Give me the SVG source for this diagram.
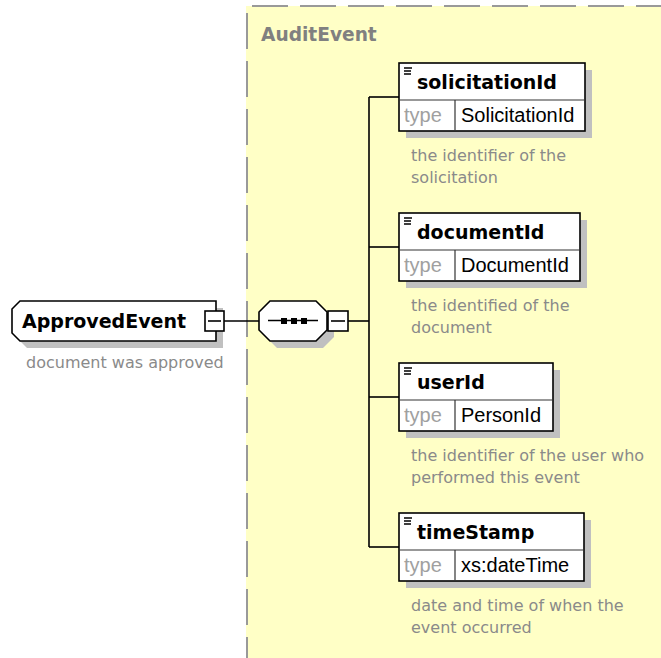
<svg xmlns="http://www.w3.org/2000/svg" width="661" height="658" viewBox="0 0 661 658">
<style>
.bg{fill:#FFFFC6}
.dash{stroke:#999;stroke-width:2;stroke-dasharray:36 12;fill:none}
.box{fill:#fff;stroke:#000;stroke-width:1.6}
.shadow{fill:#c0c0c0}
.inner{stroke:#333;stroke-width:1.2}
.conn{stroke:#000;stroke-width:1.6;fill:none}
.title{font-family:"DejaVu Sans",Verdana,sans-serif;font-weight:bold;font-size:19px;fill:#000}
.grouptitle{font-family:"DejaVu Sans",Verdana,sans-serif;font-weight:bold;font-size:18.6px;fill:#808080}
.type{font-family:"Liberation Sans",Arial,sans-serif;font-size:20px;fill:#a0a0a0}
.val{font-family:"Liberation Sans",Arial,sans-serif;font-size:20px;fill:#000}
.desc{font-family:"DejaVu Sans",Verdana,sans-serif;font-size:16px;fill:#8a8a8a}
.icon{stroke:#000;stroke-width:1.4}
</style>
<rect x="0" y="0" width="661" height="658" fill="#fff"/>
<g id="AuditEvent">
<rect class="bg" x="246" y="6" width="415" height="652"/>
<line class="dash" x1="252" y1="6" x2="661" y2="6"/>
<line class="dash" x1="247" y1="13" x2="247" y2="658"/>
<text class="grouptitle" x="261" y="41">AuditEvent</text>
</g>
<g id="connectors">
<line class="conn" x1="224" y1="321" x2="259" y2="321"/>
<line class="conn" x1="348" y1="321" x2="369" y2="321"/>
<line class="conn" x1="369" y1="97" x2="369" y2="547"/>
<line class="conn" x1="369" y1="97" x2="399" y2="97"/>
<line class="conn" x1="369" y1="247" x2="399" y2="247"/>
<line class="conn" x1="369" y1="397" x2="399" y2="397"/>
<line class="conn" x1="369" y1="547" x2="399" y2="547"/>
</g>
<g id="ApprovedEvent">
<path class="shadow" d="M27,308 H223 V348 H27 L19,340 V316 Z"/>
<path class="box" d="M20,301 H216 V341 H20 L12,333 V309 Z"/>
<text class="title" x="22" y="328">ApprovedEvent</text>
<rect class="box" x="205" y="311" width="19" height="20"/>
<line class="conn" x1="208" y1="321" x2="221" y2="321"/>
<text class="desc" x="26" y="368">document was approved</text>
</g>
<g id="sequence">
<path class="shadow" d="M277,308 H323 L334,319 V337 L323,348 H277 L266,337 V319 Z"/>
<path class="box" d="M270,301 H316 L327,312 V330 L316,341 H270 L259,330 V312 Z"/>
<line class="conn" x1="268" y1="320.5" x2="318" y2="320.5"/>
<rect x="281" y="318" width="6" height="6" fill="#000"/>
<rect x="291" y="318" width="6" height="6" fill="#000"/>
<rect x="301" y="318" width="6" height="6" fill="#000"/>
<rect class="box" x="328" y="311" width="20" height="20"/>
<line class="conn" x1="331" y1="321" x2="345" y2="321"/>
</g>
<g id="solicitationId" transform="translate(399,63)">
<rect class="shadow" x="7" y="7" width="186" height="68"/>
<rect class="box" x="0" y="0" width="186" height="68"/>
<line class="inner" x1="0" y1="37" x2="186" y2="37"/>
<line class="inner" x1="56" y1="37" x2="56" y2="68"/>
<path class="icon" d="M5,5 H13 M5,8 H12 M5,11 H12"/>
<text class="title" x="18" y="26">solicitationId</text>
<text class="type" x="5" y="59">type</text>
<text class="val" x="62" y="59">SolicitationId</text>
<text class="desc" x="12" y="98">the identifier of the</text>
<text class="desc" x="12" y="120">solicitation</text>
</g>
<g id="documentId" transform="translate(399,213)">
<rect class="shadow" x="7" y="7" width="181" height="68"/>
<rect class="box" x="0" y="0" width="181" height="68"/>
<line class="inner" x1="0" y1="37" x2="181" y2="37"/>
<line class="inner" x1="56" y1="37" x2="56" y2="68"/>
<path class="icon" d="M5,5 H13 M5,8 H12 M5,11 H12"/>
<text class="title" x="18" y="26">documentId</text>
<text class="type" x="5" y="59">type</text>
<text class="val" x="62" y="59">DocumentId</text>
<text class="desc" x="12" y="98">the identified of the</text>
<text class="desc" x="12" y="120">document</text>
</g>
<g id="userId" transform="translate(399,363)">
<rect class="shadow" x="7" y="7" width="154" height="68"/>
<rect class="box" x="0" y="0" width="154" height="68"/>
<line class="inner" x1="0" y1="37" x2="154" y2="37"/>
<line class="inner" x1="56" y1="37" x2="56" y2="68"/>
<path class="icon" d="M5,5 H13 M5,8 H12 M5,11 H12"/>
<text class="title" x="18" y="26">userId</text>
<text class="type" x="5" y="59">type</text>
<text class="val" x="62" y="59">PersonId</text>
<text class="desc" x="12" y="98">the identifier of the user who</text>
<text class="desc" x="12" y="120">performed this event</text>
</g>
<g id="timeStamp" transform="translate(399,513)">
<rect class="shadow" x="7" y="7" width="185" height="68"/>
<rect class="box" x="0" y="0" width="185" height="68"/>
<line class="inner" x1="0" y1="37" x2="185" y2="37"/>
<line class="inner" x1="56" y1="37" x2="56" y2="68"/>
<path class="icon" d="M5,5 H13 M5,8 H12 M5,11 H12"/>
<text class="title" x="18" y="26">timeStamp</text>
<text class="type" x="5" y="59">type</text>
<text class="val" x="62" y="59">xs:dateTime</text>
<text class="desc" x="12" y="98">date and time of when the</text>
<text class="desc" x="12" y="120">event occurred</text>
</g>
</svg>
